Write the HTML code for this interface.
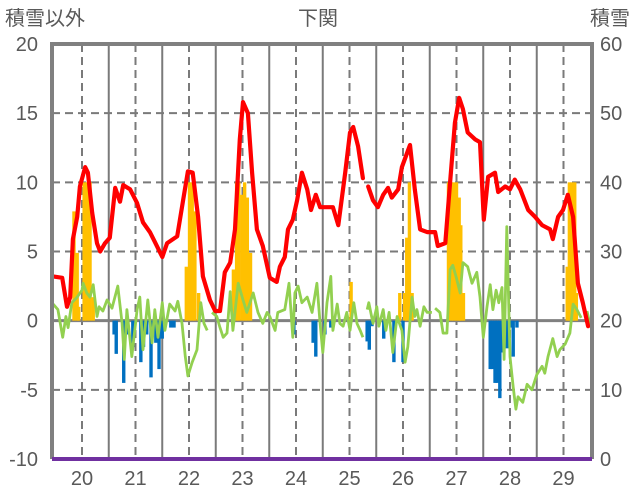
<!DOCTYPE html>
<html><head><meta charset="utf-8">
<style>
html,body{margin:0;padding:0;background:#fff;}
svg{display:block;font-family:"Liberation Sans","Noto Sans CJK JP",sans-serif;}
</style></head>
<body>
<svg id="chart" width="636" height="501" viewBox="0 0 636 501" xmlns="http://www.w3.org/2000/svg">
  <text x="5" y="25" font-size="20" fill="#595959">積雪以外</text>
  <text x="318" y="25" font-size="20" fill="#595959" text-anchor="middle">下関</text>
  <text x="630" y="25" font-size="20" fill="#595959" text-anchor="end">積雪</text>
  <g id="grid"></g>
  <g id="bars"></g>
  <g id="lines"></g>
  <g id="frame"></g>
  <g id="labels"></g>
</svg>
<script>
const leftTicks = [20, 15, 10, 5, 0, -5, -10];
const rightTicks = [60, 50, 40, 30, 20, 10, 0];
const yearLabels = [20, 21, 22, 23, 24, 25, 26, 27, 28, 29];

const redT = [19.46,19.63,19.72,19.78,19.83,19.91,19.96,20.06,20.11,20.19,20.28,20.34,20.43,20.52,20.62,20.71,20.77,20.90,21.03,21.14,21.27,21.36,21.50,21.59,21.78,21.89,21.98,22.07,22.17,22.26,22.39,22.49,22.58,22.67,22.77,22.86,22.95,23.01,23.10,23.18,23.27,23.38,23.51,23.64,23.70,23.79,23.85,23.94,24.02,24.11,24.21,24.28,24.37,24.45,24.58,24.69,24.79,24.92,25.01,25.07,25.16,25.25,25.30,25.35,25.44,25.53,25.63,25.72,25.79,25.91,25.98,26.13,26.22,26.32,26.45,26.60,26.65,26.79,26.88,26.97,27.05,27.12,27.21,27.35,27.44,27.51,27.59,27.72,27.78,27.91,28.00,28.09,28.19,28.34,28.47,28.60,28.75,28.80,28.90,28.99,29.08,29.18,29.27,29.36,29.46];
const redV = [3.2,3.1,1.0,1.7,5.9,7.5,9.7,11.1,10.7,7.8,5.6,5.0,5.6,6.0,9.6,8.6,9.8,9.5,8.5,7.1,6.4,5.7,4.6,5.6,6.1,8.7,10.8,10.7,7.5,3.2,1.5,0.7,0.7,3.5,4.2,6.6,13.1,15.8,15.0,10.7,6.6,5.4,3.1,2.8,3.9,4.6,6.6,7.3,8.7,10.7,9.5,8.0,9.1,8.2,8.2,8.2,6.9,10.7,13.6,14.0,12.6,10.3,null,9.7,8.7,8.2,9.1,9.6,8.9,9.5,11.1,12.7,9.5,6.6,6.4,6.4,5.4,5.6,10.0,14.3,16.1,15.3,13.6,13.1,12.9,7.3,10.4,10.7,9.3,9.7,9.5,10.2,9.5,8.0,7.5,6.9,6.6,5.9,7.5,8.0,9.1,7.5,2.7,1.3,-0.4];

const greenT = [19.46,19.55,19.64,19.70,19.74,19.81,19.91,20.00,20.02,20.09,20.15,20.21,20.28,20.32,20.39,20.47,20.56,20.67,20.75,20.79,20.84,20.93,21.03,21.08,21.14,21.23,21.31,21.36,21.42,21.50,21.55,21.64,21.74,21.79,21.87,21.93,21.98,22.06,22.15,22.22,22.28,22.34,22.38,22.43,22.52,22.58,22.64,22.71,22.77,22.82,22.92,23.01,23.08,23.20,23.29,23.38,23.46,23.51,23.61,23.66,23.79,23.87,23.94,23.98,24.04,24.11,24.21,24.30,24.39,24.45,24.50,24.58,24.65,24.69,24.77,24.82,24.88,24.95,25.01,25.08,25.14,25.20,25.25,25.29,25.33,25.36,25.44,25.51,25.55,25.63,25.68,25.74,25.81,25.89,25.98,26.04,26.09,26.17,26.22,26.26,26.32,26.39,26.45,26.54,26.57,26.60,26.69,26.75,26.82,26.88,26.93,26.99,27.07,27.12,27.21,27.29,27.38,27.44,27.50,27.57,27.63,27.68,27.74,27.79,27.85,27.89,27.94,28.00,28.06,28.11,28.15,28.24,28.32,28.41,28.50,28.60,28.65,28.71,28.80,28.88,28.93,29.03,29.12,29.18,29.25,29.33,29.39,29.44,29.50];
const greenV = [1.2,0.8,-1.2,0.3,-0.5,1.3,1.7,2.2,2.7,2.0,1.7,2.6,0.3,1.0,0.7,1.5,0.9,2.5,-0.2,-2.8,0.8,-2.6,0.8,1.7,-2.1,1.5,-1.6,0.8,-1.2,1.3,-0.7,1.2,0.7,1.4,-0.2,-2.6,-4.0,-3.0,-2.1,1.3,-0.2,-0.7,null,0.6,0.3,-0.5,-1.2,-0.9,2.1,-0.7,2.7,1.5,0.6,2.0,0.6,-0.2,0.6,0.3,-0.7,0.6,0.8,2.7,-1.2,2.0,2.5,1.3,1.7,0.6,2.7,-0.2,-2.3,1.3,3.2,-0.7,1.2,-0.2,-0.4,0.6,-0.7,1.3,-0.2,-0.7,-1.2,null,0.8,1.3,-0.2,1.0,-0.4,0.8,-0.7,0.6,-2.3,0.3,-0.7,-3.0,-1.9,1.7,0.3,0.8,-0.4,1.0,0.6,0.6,null,0.9,0.6,-0.9,-0.9,3.7,4.0,3.2,2.0,4.2,3.9,2.7,3.5,1.7,-1.2,1.0,2.6,0.8,2.2,1.3,2.4,-2.8,6.8,-2.6,-4.8,-6.4,-5.5,-5.9,-4.6,-5.0,-3.9,-3.3,-3.8,-2.6,-1.3,-2.6,-2.1,-1.7,-0.9,1.2,0.8,0.2,null,0.7,-0.4];

const yellowT = [19.85,19.91,19.94,20.04,20.09,20.15,20.21,21.95,22.01,22.06,22.11,22.18,22.83,22.89,22.93,22.99,23.04,23.09,23.15,25.03,25.94,26.03,26.07,26.12,26.17,26.85,26.90,26.95,27.00,27.05,27.08,27.13,29.07,29.11,29.16,29.21,29.24];
const yellowV = [7.9,4.9,1.0,10,10,10,1.7,3.9,10,10,7.9,2.0,3.7,10,10,9.1,10,8.9,4.9,2.8,2.0,2.0,6.0,10,2.0,10,10,10,10,8.9,6.9,2.0,3.9,10,10,10,2.0];

const blueT = [20.60,20.64,20.78,20.84,20.95,21.10,21.15,21.21,21.29,21.38,21.44,21.50,21.66,21.72,23.96,24.32,24.37,24.54,24.65,25.33,25.37,25.42,25.64,25.83,26.00,27.63,27.67,27.72,27.76,27.81,27.87,27.94,28.00,28.06,28.13];
const blueV = [-1.0,-2.4,-4.5,-1.0,-1.9,-3.0,-1.9,-1.0,-4.1,-1.6,-3.5,-1.3,-0.5,-0.5,-1.0,-1.6,-2.6,-1.0,-0.5,-1.5,-2.1,-0.4,-1.3,-3.0,-3.0,-3.5,-3.5,-4.5,-4.5,-5.6,-2.3,-2.0,-0.5,-2.6,-0.5];

const NS = "http://www.w3.org/2000/svg";
const L = 52, R = 592, T = 44, B = 459;
const X0 = 82, YRPX = 53.5;
function xs(t){ return X0 + (t - 20) * YRPX; }
function ys(v){ return T + (20 - v) * (B - T) / 30; }
function mk(tag, attrs, parent){
  const e = document.createElementNS(NS, tag);
  for (const k in attrs) e.setAttribute(k, attrs[k]);
  parent.appendChild(e);
  return e;
}
const grid = document.getElementById('grid');
const bars = document.getElementById('bars');
const lines = document.getElementById('lines');
const frame = document.getElementById('frame');
const labels = document.getElementById('labels');

leftTicks.forEach(v => {
  if (v === 20 || v === -10 || v === 0) return;
  const ln = mk('line', {x1:L, x2:R, y1:ys(v), y2:ys(v), stroke:'#7a7a7a', 'stroke-width':2, 'stroke-dasharray':'8,5'}, grid);
  
  
});
yearLabels.forEach(yr => {
  const xd = xs(yr);
  const d = mk('line', {x1:xd, x2:xd, y1:T, y2:B, stroke:'#7a7a7a', 'stroke-width':2, 'stroke-dasharray':'8,5'}, grid);
  
  
  const xb = xs(yr + 0.5);
  if (xb < R - 2) {
    const s = mk('line', {x1:xb, x2:xb, y1:T, y2:B, stroke:'#7a7a7a', 'stroke-width':2}, grid);
    
    
  }
});

const BW = 3.4;
yellowT.forEach((t, i) => {
  const y = ys(yellowV[i]);
  const r = mk('rect', {x:xs(t) - BW/2, y:y, width:BW, height:ys(0) - y, fill:'#FFC000'}, bars);
  
  
});
blueT.forEach((t, i) => {
  const y = ys(blueV[i]);
  const r = mk('rect', {x:xs(t) - BW/2, y:ys(0), width:BW, height:y - ys(0), fill:'#0070C0'}, bars);
  
  
});

const z = mk('line', {x1:L, x2:R, y1:ys(0), y2:ys(0), stroke:'#808080', 'stroke-width':3}, grid);



function pathOf(ts, vs){
  let d = '', pen = false;
  ts.forEach((t, i) => {
    const v = vs[i];
    if (v === null) { pen = false; return; }
    d += (pen ? 'L' : 'M') + xs(t).toFixed(1) + ',' + ys(v).toFixed(1);
    pen = true;
  });
  return d;
}
const g = mk('path', {d:pathOf(greenT, greenV), fill:'none', stroke:'#92D050', 'stroke-width':2.8, 'stroke-linejoin':'round'}, lines);


const rl = mk('path', {d:pathOf(redT, redV), fill:'none', stroke:'#FF0000', 'stroke-width':4.2, 'stroke-linejoin':'round', 'stroke-linecap':'round'}, lines);



const fr = mk('path', {d:`M${L},${B} L${L},${T} L${R},${T} L${R},${B}`, fill:'none', stroke:'#808080', 'stroke-width':4}, frame);


const pl = mk('line', {x1:L, x2:R, y1:B, y2:B, stroke:'#7030A0', 'stroke-width':4}, frame);



leftTicks.forEach(v => {
  const t = mk('text', {x:38, y:ys(v) + 7, 'font-size':20, fill:'#595959', 'text-anchor':'end'}, labels);
  t.textContent = v;
  
  
});
rightTicks.forEach((v, i) => {
  const t = mk('text', {x:600, y:ys(leftTicks[i]) + 7, 'font-size':20, fill:'#595959'}, labels);
  t.textContent = v;
  
  
});
yearLabels.forEach(yr => {
  const t = mk('text', {x:xs(yr), y:485, 'font-size':20, fill:'#595959', 'text-anchor':'middle'}, labels);
  t.textContent = yr;
  
  
});
</script>
</body></html>
